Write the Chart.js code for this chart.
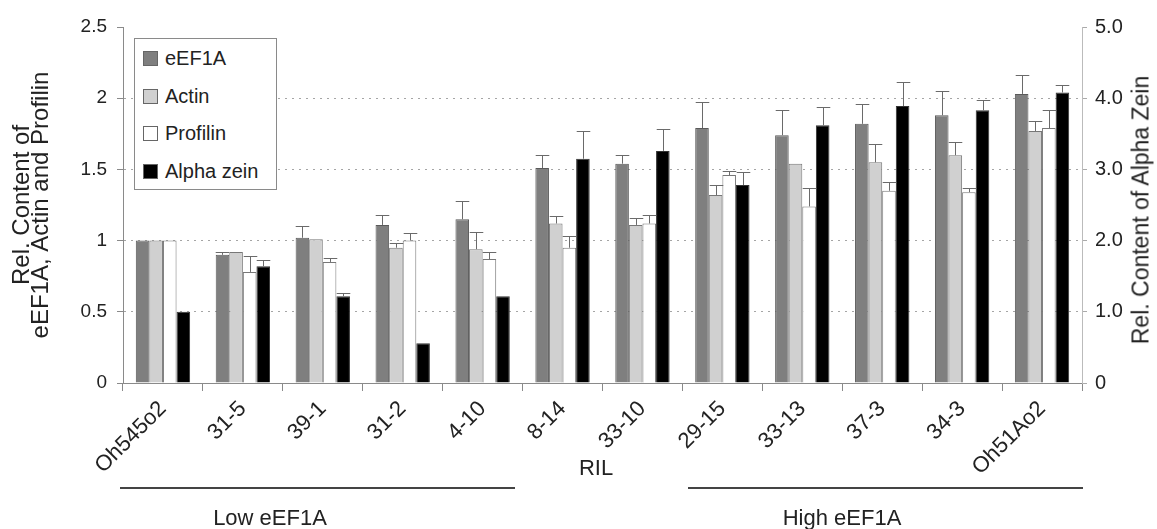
<!DOCTYPE html>
<html>
<head>
<meta charset="utf-8">
<script src="https://cdn.jsdelivr.net/npm/chart.js@4.4.1/dist/chart.umd.min.js"></script>
<style>
  html, body { margin: 0; padding: 0; background: #fff; }
  #wrap { position: relative; width: 1157px; height: 529px; font-family: "Liberation Sans", Arial, sans-serif; color: #222; }
  #legend { position: absolute; left: 134px; top: 38px; width: 143px; height: 152px; background: #fff; border: 1px solid #8a8a8a; box-sizing: border-box; }
  .item { position: absolute; left: 8px; height: 22px; font-size: 20px; line-height: 22px; white-space: nowrap; }
  .sw { display: inline-block; width: 15px; height: 15px; border: 1px solid #666; box-sizing: border-box; vertical-align: -1px; margin-right: 7px; }
  .rule { position: absolute; height: 0; border-top: 2px solid #444; }
  .note { position: absolute; font-size: 22px; transform: translateX(-50%); white-space: nowrap; }
  #rightTitle { position: absolute; left: 1141px; top: 210px; font-size: 23px; white-space: nowrap; transform: translate(-50%, -50%) rotate(-90deg); }
</style>
</head>
<body>
<div id="wrap">
  <canvas id="chart"></canvas>
  <div id="legend"></div>
  <div id="rightTitle">Rel. Content of Alpha Zein</div>
  <div class="rule" style="left:120px; top:487px; width:395px;"></div>
  <div class="rule" style="left:688px; top:487px; width:395px;"></div>
  <div class="note" style="left:596px; top:455px;">RIL</div>
  <div class="note" style="left:270px; top:505px;">Low eEF1A</div>
  <div class="note" style="left:842px; top:505px;">High eEF1A</div>
</div>
<script>
// RIL lines, in plot order
const lines = ['Oh545o2', '31-5', '39-1', '31-2', '4-10', '8-14', '33-10', '29-15', '33-13', '37-3', '34-3', 'Oh51Ao2'];

// left axis (relative content)
const eEF1A = [1.00, 0.90, 1.02, 1.11, 1.15, 1.51, 1.54, 1.79, 1.74, 1.82, 1.88, 2.03];
const eEF1AErr = [0, 0.02, 0.08, 0.07, 0.13, 0.09, 0.06, 0.18, 0.18, 0.14, 0.17, 0.13];
const actin = [1.00, 0.92, 1.01, 0.95, 0.94, 1.12, 1.11, 1.32, 1.54, 1.55, 1.60, 1.77];
const actinErr = [0, 0, 0, 0.03, 0.12, 0.05, 0.05, 0.07, 0, 0.13, 0.09, 0.07];
const profilin = [1.00, 0.78, 0.85, 1.00, 0.87, 0.95, 1.12, 1.46, 1.24, 1.35, 1.34, 1.79];
const profilinErr = [0, 0.11, 0.03, 0.05, 0.05, 0.08, 0.06, 0.03, 0.13, 0.06, 0.03, 0.13];

// right axis (alpha zein)
const alphaZein = [1.00, 1.64, 1.22, 0.56, 1.22, 3.15, 3.26, 2.78, 3.62, 3.89, 3.83, 4.08];
const alphaZeinErr = [0, 0.09, 0.05, 0, 0, 0.39, 0.31, 0.19, 0.26, 0.34, 0.14, 0.10];

const leftTicks = ['0', '0.5', '1', '1.5', '2', '2.5'];
const rightTicks = ['0', '1.0', '2.0', '3.0', '4.0', '5.0'];

const FONT = "'Liberation Sans', Arial, sans-serif";
const axisGray = '#8a8a8a';

// up-only error bars with caps
const errorBars = {
    id: 'errorBars',
    afterDatasetsDraw(chart) {
        const ctx = chart.ctx;
        ctx.save();
        ctx.strokeStyle = '#6a6a6a';
        ctx.lineWidth = 1;
        chart.data.datasets.forEach((ds, i) => {
            const meta = chart.getDatasetMeta(i);
            const scale = chart.scales[meta.yAxisID];
            meta.data.forEach((bar, j) => {
                const err = ds.errors[j];
                if (!err) return;
                const x = Math.round(bar.x) + 0.5;
                const y0 = bar.y;
                const y1 = Math.round(scale.getPixelForValue(ds.data[j] + err)) + 0.5;
                const half = bar.width / 2;
                ctx.beginPath();
                ctx.moveTo(x, y0);
                ctx.lineTo(x, y1);
                ctx.moveTo(x - half, y1);
                ctx.lineTo(x + half, y1);
                ctx.stroke();
            });
        });
        ctx.restore();
    }
};

const datasets = [
    { label: 'eEF1A', data: eEF1A, errors: eEF1AErr, backgroundColor: '#7f7f7f', borderColor: '#5a5a5a', yAxisID: 'y' },
    { label: 'Actin', data: actin, errors: actinErr, backgroundColor: '#d0d0d0', borderColor: '#777', yAxisID: 'y' },
    { label: 'Profilin', data: profilin, errors: profilinErr, backgroundColor: '#ffffff', borderColor: '#777', yAxisID: 'y' },
    { label: 'Alpha zein', data: alphaZein, errors: alphaZeinErr, backgroundColor: '#000000', borderColor: '#333', yAxisID: 'y2' }
];
datasets.forEach(d => {
    d.borderWidth = 1;
    d.barPercentage = 1.0;
    d.categoryPercentage = 0.68;
});

new Chart(document.getElementById('chart'), {
    type: 'bar',
    data: { labels: lines, datasets: datasets },
    options: {
        responsive: true,
        maintainAspectRatio: false,
        animation: false,
        layout: { padding: { top: 27, left: 0, right: 0, bottom: 0 } },
        plugins: { legend: { display: false }, tooltip: { enabled: false } },
        scales: {
            x: {
                offset: true,
                grid: { display: true, drawOnChartArea: false, offset: true, color: axisGray, tickLength: 8 },
                border: { color: axisGray },
                ticks: { color: '#222', font: { family: FONT, size: 22 }, minRotation: 45, maxRotation: 45, padding: 5, autoSkip: false },
                afterFit: s => { s.height = 146; }
            },
            y: {
                position: 'left',
                min: 0, max: 2.5,
                ticks: { stepSize: 0.5, color: '#222', font: { family: FONT, size: 19 }, padding: 10,
                         callback: (v, i) => leftTicks[i] },
                grid: {
                    color: c => (c.index === 0 || c.index === 5) ? 'rgba(0,0,0,0)' : '#a5a5a5',
                    tickColor: axisGray, tickLength: 6, lineWidth: 1
                },
                // in v4 border.dash styles the grid lines
                border: { color: axisGray, dash: [2, 5] },
                title: { display: true, text: ['Rel. Content of', 'eEF1A, Actin and Profilin'],
                         color: '#222', font: { family: FONT, size: 24, lineHeight: 0.8 }, padding: { top: 13, bottom: 0 } },
                afterFit: s => { s.width = 123; }
            },
            y2: {
                position: 'right',
                min: 0, max: 5,
                ticks: { stepSize: 1, color: '#222', font: { family: FONT, size: 20 }, padding: 8,
                         callback: (v, i) => rightTicks[i] },
                grid: { drawOnChartArea: false, color: '#aaa', tickLength: 5 },
                border: { color: '#bbb' },
                afterFit: s => { s.width = 75; }
            }
        }
    },
    plugins: [errorBars]
});

// legend built from datasets
const legend = document.getElementById('legend');
datasets.forEach((d, i) => {
    const item = document.createElement('div');
    item.className = 'item';
    item.style.top = (8 + i * 37.5) + 'px';
    item.innerHTML = '<span class="sw" style="background:' + d.backgroundColor + '"></span>' + d.label;
    legend.appendChild(item);
});
</script>
</body>
</html>
